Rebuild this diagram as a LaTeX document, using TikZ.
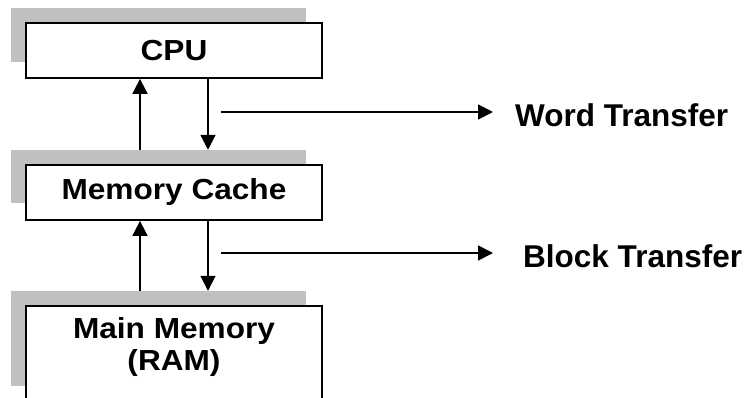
\documentclass[tikz,border=0pt]{standalone}
\usepackage{fontspec}
\setmainfont{Liberation Sans}
\newfontfamily\boxfont{Liberation Sans}[FakeStretch=1.09]
\usetikzlibrary{arrows.meta}
\definecolor{shadowgray}{RGB}{192,192,192}
\tikzset{
  shadowbox/.style={fill=shadowgray, draw=none, inner sep=0pt, minimum width=295pt},
  unitbox/.style={draw=black, fill=white, line width=1.8pt, inner sep=0pt, minimum width=296pt,
    font=\boxfont\bfseries\fontsize{29}{32}\selectfont, align=center},
  link/.style={line width=1.8pt, -{Triangle[width=15pt,length=15pt]}},
  sidelabel/.style={anchor=base west, inner sep=0pt, font=\bfseries\fontsize{31.5}{36}\selectfont}
}
\begin{document}
\begin{tikzpicture}[x=1pt,y=-1pt]
\useasboundingbox (0,0) rectangle (747,398);
\clip (0,0) rectangle (747,398);
% shadows
\node[shadowbox, minimum height=54pt] (cpus) at (158.5,35) {};
\node[shadowbox, minimum height=53pt] (cachs) at (158.5,176.5) {};
\node[shadowbox, minimum height=95pt] (rams) at (158.5,338.5) {};
% boxes
\node[unitbox, minimum height=55pt] (cpu) at (174,50.5) {CPU};
\node[unitbox, minimum height=55pt] (cache) at (174,192.5) {Memory Cache};
\node[unitbox, minimum height=112pt, text depth=36pt] (ram) at (174,362) {Main Memory\\(RAM)};
% columns
\coordinate (L) at (140,0);
\coordinate (R) at (208,0);
% vertical arrows
\draw[link] (cachs.north -| L) -- (cpu.south -| L);
\draw[link] (cpu.south -| R) -- (cachs.north -| R);
\draw[link] (rams.north -| L) -- (cache.south -| L);
\draw[link] (cache.south -| R) -- (rams.north -| R);
% transfers
\coordinate (w0) at (221,112);
\coordinate (w1) at (493,112);
\coordinate (b0) at (221,253);
\coordinate (b1) at (493,253);
\draw[link] (w0) -- (w1);
\draw[link] (b0) -- (b1);
\node[sidelabel] (word) at (515,127) {Word Transfer};
\node[sidelabel] (block) at (523,267) {Block Transfer};
\end{tikzpicture}
\end{document}
